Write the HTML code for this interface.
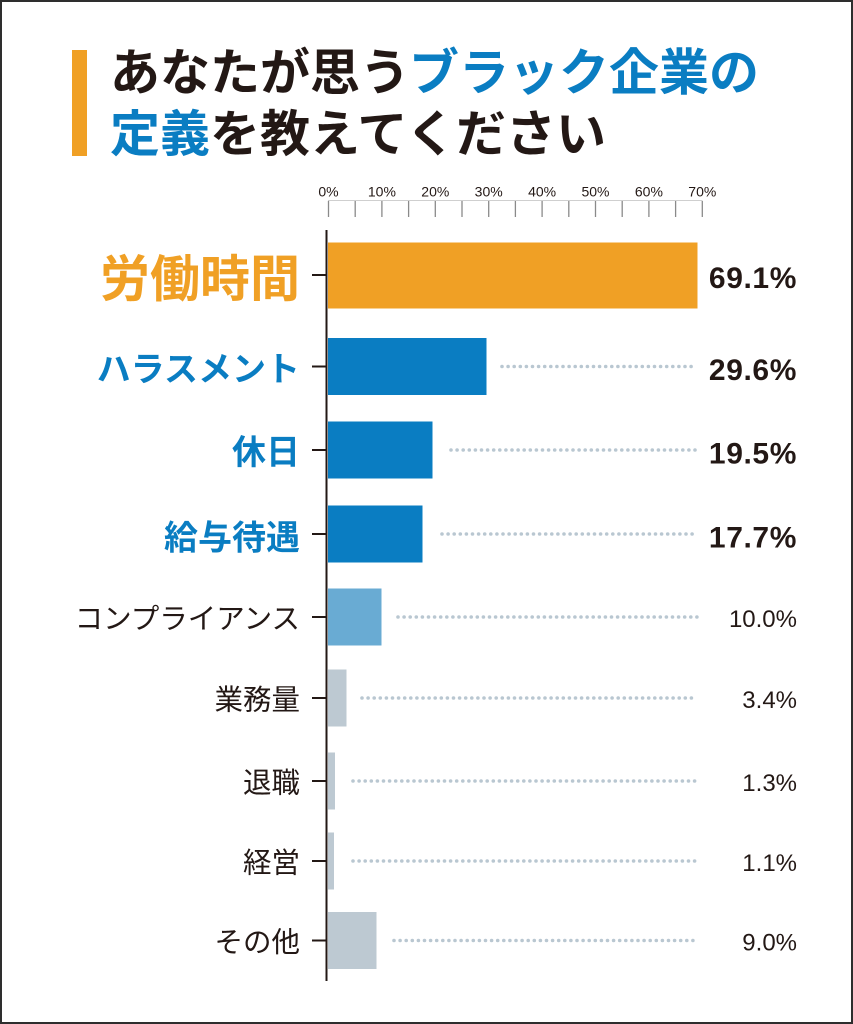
<!DOCTYPE html>
<html><head><meta charset="utf-8"><style>
html,body{margin:0;padding:0;background:#fff;}
#wrap{position:relative;width:853px;height:1024px;box-sizing:border-box;border:2px solid #2e2e2e;background:#fff;overflow:hidden;}
svg{position:absolute;left:-2px;top:-2px;}
text{font-family:"Liberation Sans","Noto Sans CJK JP",sans-serif;}
</style></head><body><div id="wrap">
<svg width="853" height="1024" viewBox="0 0 853 1024" xmlns="http://www.w3.org/2000/svg">
<!-- title -->
<rect x="72" y="50" width="15" height="106" fill="#f0a025"/>
<text x="110" y="90" font-size="50" font-weight="700" fill="#231815">あなたが思う<tspan fill="#0a7dc2">ブラック企業の</tspan></text>
<text x="110" y="151.5" font-size="50" font-weight="700" fill="#231815"><tspan fill="#0a7dc2">定義</tspan>を教えてください</text>

<!-- top axis -->
<g font-size="14" fill="#231815" text-anchor="middle">
<text x="328.5" y="196.5">0%</text>
<text x="381.9" y="196.5">10%</text>
<text x="435.3" y="196.5">20%</text>
<text x="488.7" y="196.5">30%</text>
<text x="542.1" y="196.5">40%</text>
<text x="595.5" y="196.5">50%</text>
<text x="648.9" y="196.5">60%</text>
<text x="702.3" y="196.5">70%</text>
</g>
<line x1="328" y1="200.5" x2="702.5" y2="200.5" stroke="#cfcfcf" stroke-width="1"/>
<g stroke="#8a8a8a" stroke-width="1.3">
<line x1="328.5" y1="201" x2="328.5" y2="217"/>
<line x1="355.2" y1="201" x2="355.2" y2="217"/>
<line x1="381.9" y1="201" x2="381.9" y2="217"/>
<line x1="408.6" y1="201" x2="408.6" y2="217"/>
<line x1="435.3" y1="201" x2="435.3" y2="217"/>
<line x1="462.0" y1="201" x2="462.0" y2="217"/>
<line x1="488.7" y1="201" x2="488.7" y2="217"/>
<line x1="515.4" y1="201" x2="515.4" y2="217"/>
<line x1="542.1" y1="201" x2="542.1" y2="217"/>
<line x1="568.8" y1="201" x2="568.8" y2="217"/>
<line x1="595.5" y1="201" x2="595.5" y2="217"/>
<line x1="622.2" y1="201" x2="622.2" y2="217"/>
<line x1="648.9" y1="201" x2="648.9" y2="217"/>
<line x1="675.6" y1="201" x2="675.6" y2="217"/>
<line x1="702.3" y1="201" x2="702.3" y2="217"/>
</g>

<!-- bars -->
<rect x="328" y="242.5" width="369.5" height="66" fill="#f0a025"/>
<rect x="328" y="338" width="158.5" height="57" fill="#0a7dc2"/>
<rect x="328" y="421.5" width="104.5" height="57" fill="#0a7dc2"/>
<rect x="328" y="505.5" width="94.5" height="57" fill="#0a7dc2"/>
<rect x="328" y="588.5" width="53.5" height="57" fill="#69abd3"/>
<rect x="328" y="669.5" width="18.5" height="57" fill="#bdc9d2"/>
<rect x="328" y="752.5" width="7" height="57" fill="#bdc9d2"/>
<rect x="328" y="832.5" width="6" height="57" fill="#bdc9d2"/>
<rect x="328" y="912" width="48.5" height="57" fill="#bdc9d2"/>

<!-- dotted leaders -->
<g stroke="#b9c7d1" stroke-width="3.6" stroke-linecap="round" stroke-dasharray="0 6.1">
<line x1="502" y1="366.5" x2="697" y2="366.5"/>
<line x1="451" y1="450" x2="697" y2="450"/>
<line x1="442" y1="534" x2="697" y2="534"/>
<line x1="398" y1="617" x2="697" y2="617"/>
<line x1="362" y1="698" x2="697" y2="698"/>
<line x1="353" y1="781" x2="697" y2="781"/>
<line x1="353" y1="861" x2="697" y2="861"/>
<line x1="394" y1="940.5" x2="697" y2="940.5"/>
</g>

<!-- vertical axis -->
<line x1="326.5" y1="230" x2="326.5" y2="981" stroke="#231815" stroke-width="2"/>
<g stroke="#231815" stroke-width="2">
<line x1="312" y1="275" x2="327" y2="275"/>
<line x1="312" y1="366.5" x2="327" y2="366.5"/>
<line x1="312" y1="450" x2="327" y2="450"/>
<line x1="312" y1="534" x2="327" y2="534"/>
<line x1="312" y1="617" x2="327" y2="617"/>
<line x1="312" y1="698" x2="327" y2="698"/>
<line x1="312" y1="781" x2="327" y2="781"/>
<line x1="312" y1="861" x2="327" y2="861"/>
<line x1="312" y1="940.5" x2="327" y2="940.5"/>
</g>

<!-- category labels -->
<g text-anchor="end">
<text x="300" y="296.5" font-size="50" font-weight="700" fill="#f0a025">労働時間</text>
<text x="300" y="381" font-size="34" font-weight="700" fill="#0a7dc2">ハラスメント</text>
<text x="300" y="464" font-size="34" font-weight="700" fill="#0a7dc2">休日</text>
<text x="300" y="549.5" font-size="34" font-weight="700" fill="#0a7dc2">給与待遇</text>
<text x="300" y="628.5" font-size="28.5" fill="#231815">コンプライアンス</text>
<text x="300" y="709.5" font-size="28.5" fill="#231815">業務量</text>
<text x="300" y="792.5" font-size="28.5" fill="#231815">退職</text>
<text x="300" y="872.5" font-size="28.5" fill="#231815">経営</text>
<text x="300" y="952" font-size="28.5" fill="#231815">その他</text>
</g>

<!-- values -->
<g text-anchor="end" fill="#231815">
<text x="797" y="288" font-size="30" font-weight="700" letter-spacing="0.6">69.1%</text>
<text x="797" y="380" font-size="30" font-weight="700" letter-spacing="0.6">29.6%</text>
<text x="797" y="463.5" font-size="30" font-weight="700" letter-spacing="0.6">19.5%</text>
<text x="797" y="547.5" font-size="30" font-weight="700" letter-spacing="0.6">17.7%</text>
<text x="797" y="627" font-size="24">10.0%</text>
<text x="797" y="708" font-size="24">3.4%</text>
<text x="797" y="791" font-size="24">1.3%</text>
<text x="797" y="871" font-size="24">1.1%</text>
<text x="797" y="950.5" font-size="24">9.0%</text>
</g>
</svg>
</div></body></html>
